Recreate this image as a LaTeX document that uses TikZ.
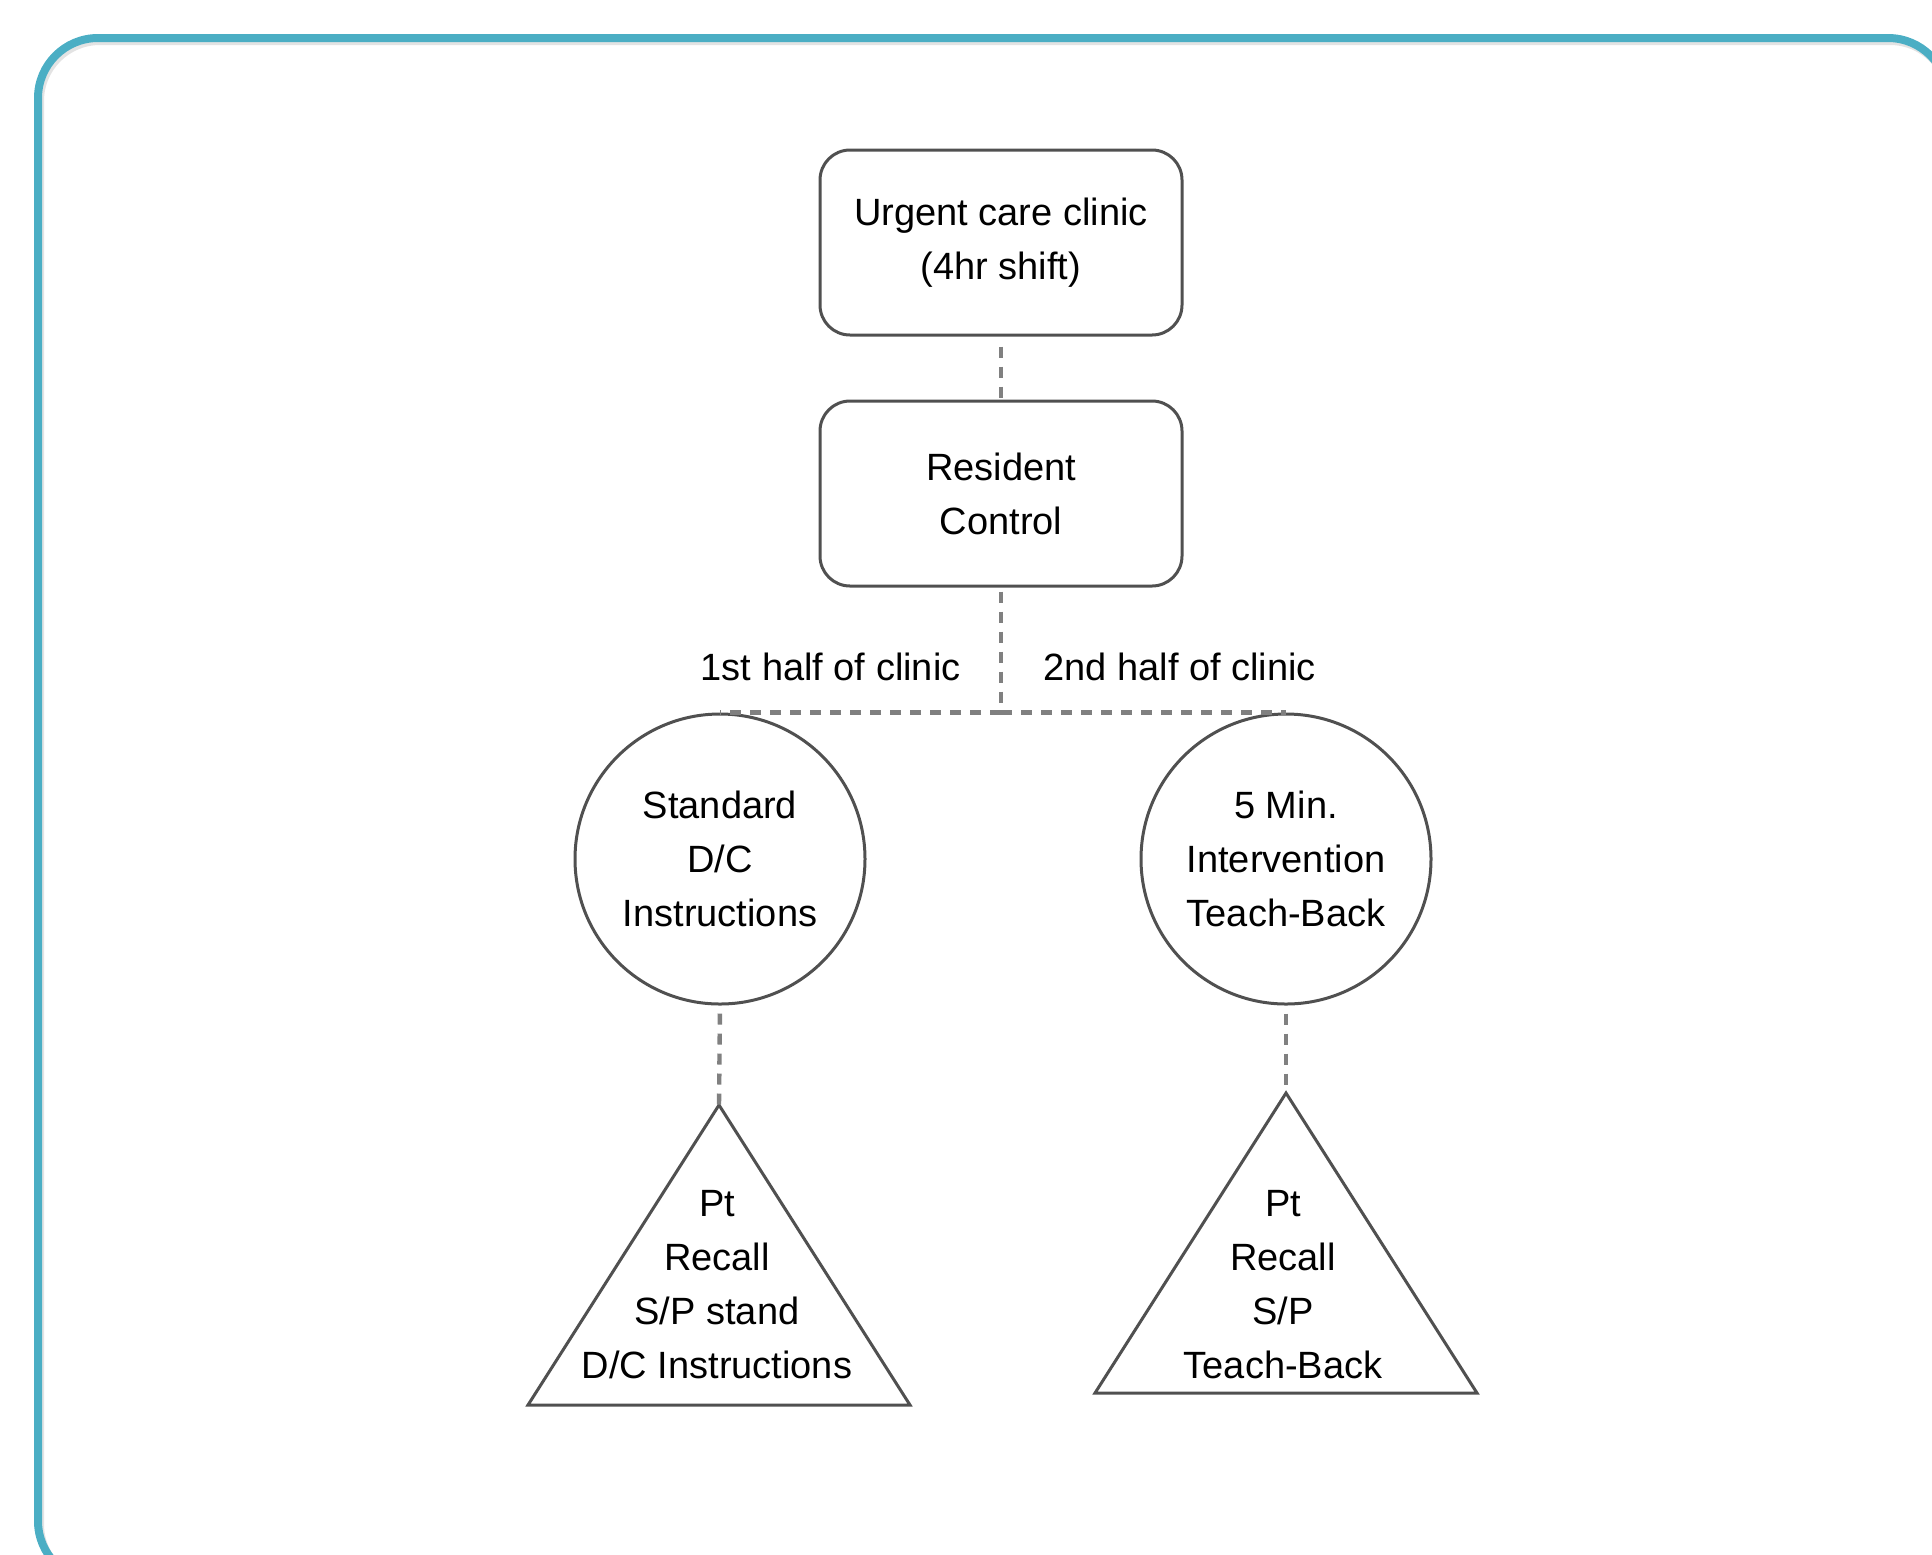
\documentclass[tikz,border=0pt]{standalone}
\usepackage{fontspec}
\setmainfont{Liberation Sans}
\usetikzlibrary{positioning}
\definecolor{teal1}{HTML}{4BAEC4}
\definecolor{edgegray}{HTML}{505050}
\definecolor{dashgray}{HTML}{808080}
\begin{document}
\begin{tikzpicture}[x=0.5pt,y=-0.5pt,
  txt/.style={font=\fontsize{19pt}{27pt}\selectfont, align=center, text=black},
  roundbox/.style={txt, draw=edgegray, line width=1.5pt, rounded corners=15pt,
     minimum width=181pt, minimum height=92.5pt, inner sep=0pt},
  circ/.style={txt, draw=edgegray, line width=1.5pt, circle, minimum size=145pt, inner sep=0pt},
  tri/.style={draw=edgegray, line width=1.5pt, line join=miter},
  conn/.style={draw=dashgray, line width=2.2pt, dash pattern=on 5.5pt off 4.5pt},
  lbl/.style={font=\fontsize{19pt}{27pt}\selectfont, text=black, inner sep=0pt}]
\useasboundingbox (0,0) rectangle (1932,1554);
% frame with shadow
\draw[gray!22, line width=4pt, rounded corners=30pt] (40,41) rectangle (1950,1584);
\draw[teal1, line width=4pt, rounded corners=30pt] (38,38) rectangle (1948,1581);
% nodes
\node[roundbox] (b1) at (1001,242.5) {Urgent care clinic\\(4hr shift)};
\node[roundbox] (b2) at (1001,493.5) {Resident\\Control};
\node[circ] (c1) at (720,859) {Standard\\D/C\\Instructions};
\node[circ] (c2) at (1286,859) {5 Min.\\Intervention\\Teach-Back};
\coordinate (t1) at (719,1105);
\coordinate (t2) at (1286,1093);
\draw[tri] (t1) -- ++(-191,300) -- ++(382,0) -- cycle;
\draw[tri] (t2) -- ++(-191,300) -- ++(382,0) -- cycle;
\node[txt] (p1) at (717,1285) {Pt\\Recall\\S/P stand\\D/C Instructions};
\node[txt] (p2) at (1283,1285) {Pt\\Recall\\S/P\\Teach-Back};
\node[lbl, anchor=east] (l1) at (961,667) {1st half of clinic};
\node[lbl, anchor=west] (l2) at (1043,667) {2nd half of clinic};
% connectors
\coordinate (j) at (b2.south |- c1.north);
\draw[conn, shorten <=5pt] (b1.south) -- (b2.north);
\draw[conn, shorten <=2pt] (b2.south) -- (j);
\draw[conn] (j) -| (c1.north);
\draw[conn] (j) -| (c2.north);
\draw[conn, shorten <=4pt] (c1.south) -- (t1);
\draw[conn, shorten <=4pt] (c2.south) -- (t2);
\end{tikzpicture}
\end{document}
